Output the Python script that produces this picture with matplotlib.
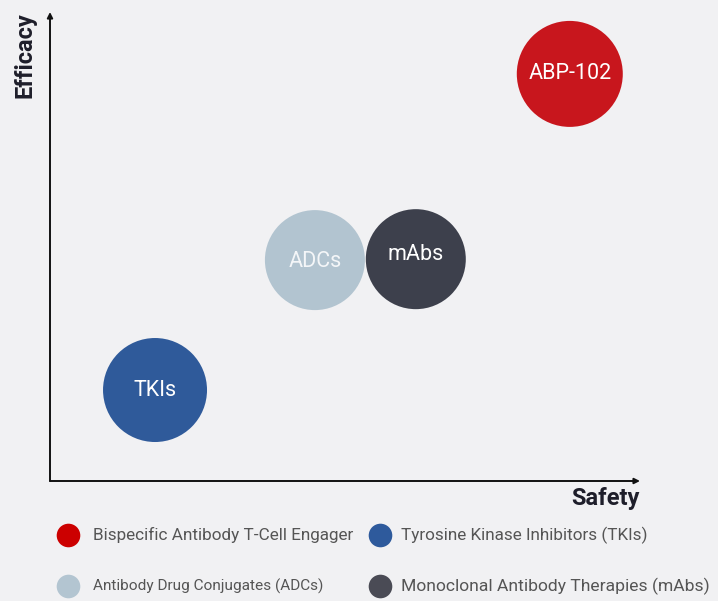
import matplotlib.pyplot as plt

plt.rcParams['font.family'] = ['Roboto', 'DejaVu Sans']

# data (safety / efficacy scores, 0-100)
labels = ['ABP-102', 'ADCs', 'mAbs', 'TKIs']
safety = [88.1, 44.9, 62.0, 17.8]
efficacy = [86.8, 47.1, 47.3, 19.4]
radius_px = [53, 50, 50, 52]
colors = ['#c8161d', '#b2c4d0', '#3d404c', '#2f5a9a']

legend_labels = ['Bispecific Antibody T-Cell Engager', 'Tyrosine Kinase Inhibitors (TKIs)',
                 'Antibody Drug Conjugates (ADCs)', 'Monoclonal Antibody Therapies (mAbs)']
legend_colors = ['#cc0000', '#2e5a9c', '#b3c5d1', '#4a4b55']

W, H = 718, 601
bg = '#f1f1f3'
fig = plt.figure(figsize=(W / 100, H / 100), dpi=100, facecolor=bg)
ax = fig.add_axes([50 / W, 1 - 481 / H, 590 / W, 469 / H])
ax.set_facecolor(bg)
ax.set_xlim(0, 100)
ax.set_ylim(0, 100)
for s in ax.spines.values():
    s.set_visible(False)
ax.set_xticks([])
ax.set_yticks([])

# axes arrows
arrow = dict(arrowstyle='-|>', color='#111111', lw=1.4, mutation_scale=8, shrinkA=0, shrinkB=0)
ax.annotate('', xy=(0, 1), xytext=(0, 0), xycoords='axes fraction', arrowprops=arrow)
ax.annotate('', xy=(1, 0), xytext=(0, 0), xycoords='axes fraction', arrowprops=arrow)

ax.text(-0.043, 1.0, 'Efficacy', transform=ax.transAxes, rotation=90, ha='center', va='top',
        fontsize=17, fontweight='bold', color='#1e1e2a')
ax.text(1.0, -0.013, 'Safety', transform=ax.transAxes, ha='right', va='top',
        fontsize=17, fontweight='bold', color='#1e1e2a')

# bubbles
sizes = [(2 * r * 0.72) ** 2 for r in radius_px]
ax.scatter(safety, efficacy, s=sizes, c=colors, edgecolors='none', zorder=3, clip_on=False)
text_colors = ['white', '#f4f6f8', 'white', 'white']
text_dy = [0, -0.3, 1.0, 0]  # small label nudges (in data units)
for x, y, lab, tc, dy in zip(safety, efficacy, labels, text_colors, text_dy):
    ax.text(x, y + dy, lab, ha='center', va='center', fontsize=15.5, color=tc, zorder=4)

# legend, laid out in a 2x2 grid below the plot
col_x = [68, 380]
text_off = [25, 21]
row_y = [535, 586]
label_fs = [12.3, 12.3, 11.1, 12.6]
lax = fig.add_axes([0, 0, 1, 1], facecolor='none')
lax.set_xlim(0, W)
lax.set_ylim(H, 0)
lax.axis('off')
for i, (lab, c) in enumerate(zip(legend_labels, legend_colors)):
    cx, cy = col_x[i % 2], row_y[i // 2]
    lax.plot([cx], [cy], marker='o', ls='none', markersize=17, markerfacecolor=c,
             markeredgecolor='none')
    lax.text(cx + text_off[i % 2], cy, lab, ha='left', va='center', fontsize=label_fs[i],
             color='#555555')

fig.savefig('out.png', dpi=100, facecolor=bg)
